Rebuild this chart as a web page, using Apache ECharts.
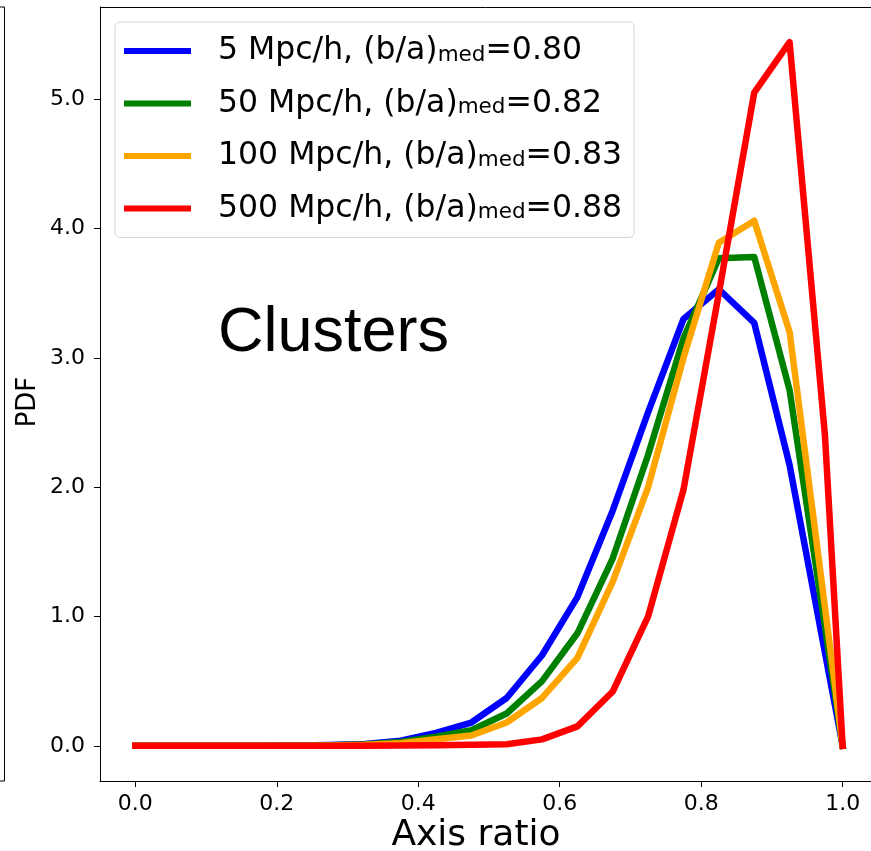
<!DOCTYPE html>
<html><head><meta charset="utf-8">
<script src="https://cdn.jsdelivr.net/npm/echarts@6/dist/echarts.min.js"></script>
<style>html,body{margin:0;padding:0;background:#fff}#c{width:871px;height:851px}</style>
</head><body><div id="c"></div>
<script>
// Data
const axisRatio = [0, 0.025, 0.075, 0.125, 0.175, 0.225, 0.275, 0.325, 0.375, 0.425, 0.475, 0.525, 0.575, 0.625, 0.675, 0.725, 0.775, 0.825, 0.875, 0.925, 0.975, 1.0];
const pdf5   = [0, 0, 0, 0, 0, 0.002, 0.006, 0.015, 0.04, 0.10, 0.18, 0.37, 0.70, 1.15, 1.82, 2.58, 3.30, 3.53, 3.27, 2.17, 0.72, 0];
const pdf50  = [0, 0, 0, 0, 0, 0.001, 0.004, 0.010, 0.03, 0.07, 0.12, 0.25, 0.50, 0.87, 1.45, 2.25, 3.15, 3.77, 3.78, 2.75, 0.92, 0];
const pdf100 = [0, 0, 0, 0, 0, 0.001, 0.003, 0.008, 0.02, 0.05, 0.08, 0.18, 0.37, 0.68, 1.27, 2.00, 3.00, 3.89, 4.06, 3.20, 1.07, 0];
const pdf500 = [0, 0, 0, 0, 0, 0, 0, 0, 0.002, 0.004, 0.008, 0.012, 0.05, 0.15, 0.42, 1.00, 1.98, 3.50, 5.05, 5.44, 2.40, 0];
const scales = ['5 Mpc/h', '50 Mpc/h', '100 Mpc/h', '500 Mpc/h'];
const medians = ['0.80', '0.82', '0.83', '0.88'];
const colors = ['#0000ff', '#008000', '#ffa500', '#ff0000'];
const xTicks = [0, 0.2, 0.4, 0.6, 0.8, 1.0];
const yTicks = [0, 1, 2, 3, 4, 5];
const panelLabel = 'Clusters';
const xTitle = 'Axis ratio';
const yTitle = 'PDF';

const allSeries = [pdf5, pdf50, pdf100, pdf500];
const yMaxData = 5.44;
const chart = echarts.init(document.getElementById('c'), null, {renderer: 'canvas'});
const FONT = 'DejaVu Sans';

const option = {
  animation: false,
  backgroundColor: '#fff',
  grid: {left: 100, top: 7, width: 778, height: 774, outerBoundsMode: 'none', containLabel: false, show: false},
  xAxis: {
    type: 'value', min: -0.05, max: 1.05,
    axisLine: {show: true, onZero: false, lineStyle: {color: '#000', width: 1}},
    axisTick: {show: true, customValues: xTicks, length: 6, lineStyle: {color: '#000', width: 1}},
    axisLabel: {customValues: xTicks, formatter: v => Number(v).toFixed(1), fontSize: 22, fontFamily: FONT, color: '#000', margin: 12},
    splitLine: {show: false}
  },
  yAxis: {
    type: 'value', min: -0.05 * yMaxData, max: 1.05 * yMaxData,
    axisLine: {show: true, onZero: false, lineStyle: {color: '#000', width: 1}},
    axisTick: {show: true, customValues: yTicks, length: 6, lineStyle: {color: '#000', width: 1}},
    axisLabel: {customValues: yTicks, formatter: v => Number(v).toFixed(1), fontSize: 22, fontFamily: FONT, color: '#000', margin: 15},
    splitLine: {show: false}
  },
  legend: {
    left: 115, top: 22, orient: 'vertical',
    itemWidth: 67, itemHeight: 6, itemGap: 20.5, icon: 'rect',
    padding: [13, 12, 13, 9],
    backgroundColor: 'rgba(255,255,255,0.8)', borderColor: '#d6d6d6', borderWidth: 1, borderRadius: 5,
    selectedMode: false,
    data: scales.map((s, i) => ({name: s, itemStyle: {color: colors[i]}})),
    formatter: name => {
      const i = scales.indexOf(name);
      return '{f|' + name + ', (b/a)}{s|med}{a|=' + medians[i] + '}';
    },
    textStyle: {
      color: '#000', fontFamily: FONT, fontSize: 31.5,
      rich: {
        f: {fontSize: 31.5, fontFamily: FONT, color: '#000', lineHeight: 30, padding: [0, 0, 0, 22]},
        s: {fontSize: 21.5, fontFamily: FONT, color: '#000', lineHeight: 12, verticalAlign: 'bottom'},
        a: {fontSize: 31.5, fontFamily: FONT, color: '#000', lineHeight: 30}
      }
    }
  },
  series: allSeries.map((arr, i) => ({
    name: scales[i], type: 'line', showSymbol: false, symbol: 'none',
    data: axisRatio.map((x, k) => [x, arr[k]]),
    lineStyle: {color: colors[i], width: 6.5, cap: 'square', join: 'round'},
    itemStyle: {color: colors[i]},
    z: 2 + i
  })),
  graphic: [
    {type: 'line', shape: {x1: 100, y1: 7.5, x2: 871, y2: 7.5}, style: {stroke: '#000', lineWidth: 1}},
    {type: 'text', left: 218, top: 302, style: {text: panelLabel, font: '63px "Liberation Sans"', fill: '#000'}},
    {type: 'text', x: 476, y: 836, style: {text: xTitle, font: '36px "DejaVu Sans"', fill: '#000', align: 'center', verticalAlign: 'middle'}},
    {type: 'text', x: 28, y: 402, rotation: Math.PI / 2, style: {text: yTitle, font: '26px "DejaVu Sans"', fill: '#000', align: 'center', verticalAlign: 'middle'}},
    {type: 'rect', shape: {x: -20, y: 7, width: 24.5, height: 774}, style: {fill: 'none', stroke: '#000', lineWidth: 1}}
  ]
};
chart.setOption(option);
</script></body></html>
